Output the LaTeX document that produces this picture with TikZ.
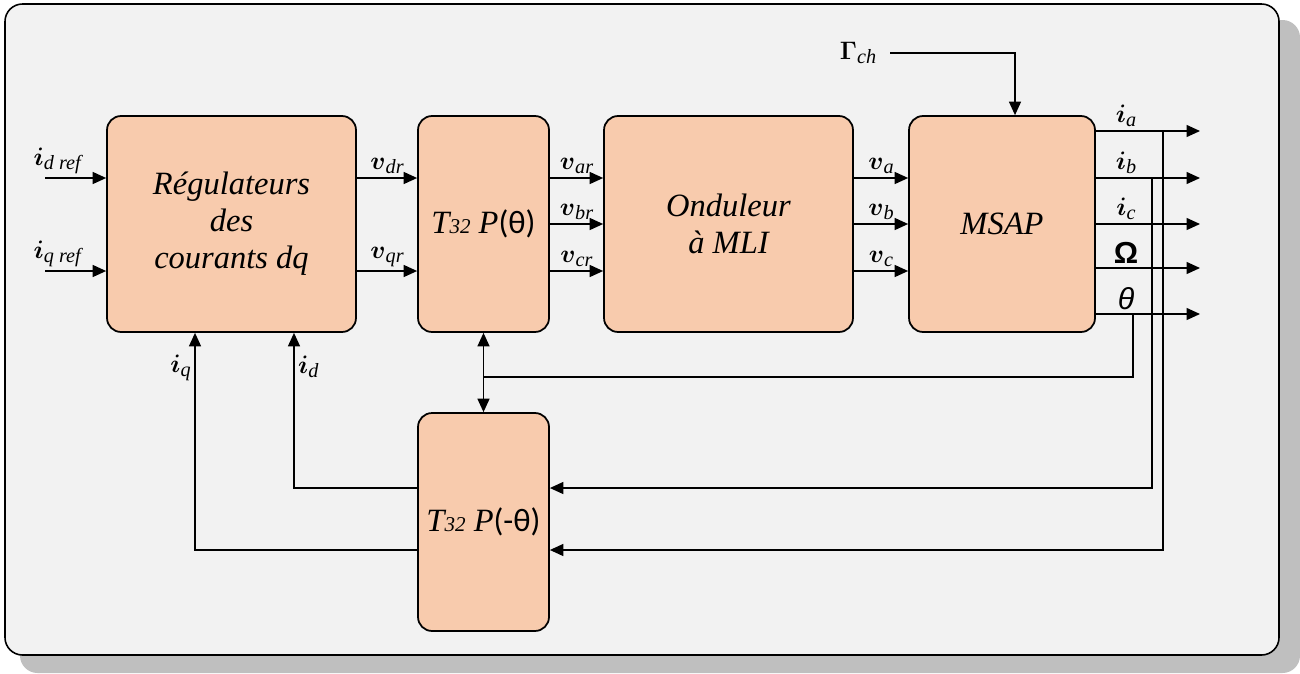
\documentclass[tikz,border=0pt]{standalone}
\usepackage{fontspec}
\usepackage{bm}
\newfontfamily\calfont{Carlito}
\newfontfamily\blockfont{Liberation Serif}
\newfontfamily\arialfont{Liberation Sans}
\usetikzlibrary{arrows.meta,positioning,calc}
\definecolor{peach}{HTML}{F8CBAD}
\definecolor{panel}{HTML}{F2F2F2}
\definecolor{shadowgrey}{HTML}{BFBFBF}
% bold symbol with an italic text subscript
\newcommand{\sglabel}[2]{$\bm{#1}$\raisebox{-0.35ex}{\blockfont\itshape\fontsize{11.5}{11.5}\selectfont #2}}

\begin{document}
\begin{tikzpicture}[x=0.02cm,y=-0.02cm,
    block/.style={draw, line width=1pt, rounded corners=0.28cm, fill=peach,
      align=center, inner sep=0pt, font=\blockfont\fontsize{18.5}{21}\selectfont\itshape},
    sig/.style={line width=0.8pt, -{Triangle[length=2.7mm,width=2.4mm]}},
    wire/.style={line width=0.8pt},
    lbl/.style={font=\Large, inner sep=2pt}]

  \useasboundingbox (0,0) rectangle (1300,673);
  \fill [shadowgrey, rounded corners=0.35cm] (20,20) rectangle (1300,673);
  \draw [fill=panel, line width=0.9pt, rounded corners=0.35cm] (5,4) rectangle (1279,655);

  % blocks
  \node [block, minimum width=4.98cm, minimum height=4.32cm] at (231.5,224) (reg) {R\'egulateurs\\des\\courants dq};
  \node [block, minimum width=2.62cm, minimum height=4.32cm] at (483.5,224) (tp) {T{\fontsize{12}{12}\selectfont 32} P{\calfont\upshape (θ)}};
  \node [block, minimum width=4.98cm, minimum height=4.32cm] at (728.5,224) (ond) {Onduleur\\\`a MLI};
  \node [block, minimum width=3.72cm, minimum height=4.32cm] at (1002,224) (msap) {MSAP};
  \node [block, minimum width=2.62cm, minimum height=4.36cm] at (483.5,522) (tpinv) {T{\fontsize{12}{12}\selectfont 32} P{\calfont\upshape (-θ)}};

  \coordinate (rowA) at (0,178);
  \coordinate (rowB) at (0,224);
  \coordinate (rowC) at (0,271);

  % references
  \coordinate (idref) at (45,178);
  \coordinate (iqref) at (45,271);
  \draw [sig] (idref) -- (idref -| reg.west) node [lbl, above, pos=0.2] {\sglabel{i}{d ref}};
  \draw [sig] (iqref) -- (iqref -| reg.west) node [lbl, above, pos=0.2] {\sglabel{i}{q ref}};

  \draw [sig] (reg.east |- rowA) -- (tp.west |- rowA) node [lbl, above, midway] {\sglabel{v}{dr}};
  \draw [sig] (reg.east |- rowC) -- (tp.west |- rowC) node [lbl, above, midway] {\sglabel{v}{qr}};

  \draw [sig] (tp.east |- rowA) -- (ond.west |- rowA) node [lbl, above, midway] {\sglabel{v}{ar}};
  \draw [sig] (tp.east |- rowB) -- (ond.west |- rowB) node [lbl, above, midway] {\sglabel{v}{br}};
  \draw [sig] (tp.east |- rowC) -- (ond.west |- rowC) node [lbl, above, midway] {\sglabel{v}{cr}};

  \draw [sig] (ond.east |- rowA) -- (msap.west |- rowA) node [lbl, above, midway] {\sglabel{v}{a}};
  \draw [sig] (ond.east |- rowB) -- (msap.west |- rowB) node [lbl, above, midway] {\sglabel{v}{b}};
  \draw [sig] (ond.east |- rowC) -- (msap.west |- rowC) node [lbl, above, midway] {\sglabel{v}{c}};

  % load torque
  \node [lbl] at (858,53) (gam) {\sglabel{\Gamma}{ch}};
  \coordinate (gstart) at (890,53);
  \draw [sig] (gstart) -| ([xshift=0.26cm]msap.north);

  % machine outputs
  \coordinate (ia) at (1200,131);
  \coordinate (ib) at (1200,178);
  \coordinate (ic) at (1200,224);
  \coordinate (om) at (1200,268);
  \coordinate (th) at (1200,314);
  \draw [sig] (msap.east |- ia) -- (ia) node [lbl, above, pos=0.29] {\sglabel{i}{a}};
  \draw [sig] (msap.east |- ib) -- (ib) node [lbl, above, pos=0.29] {\sglabel{i}{b}};
  \draw [sig] (msap.east |- ic) -- (ic) node [lbl, above, pos=0.29] {\sglabel{i}{c}};
  \draw [sig] (msap.east |- om) -- (om) node [lbl, above, pos=0.29] {\arialfont\bfseries\LARGE Ω};
  \draw [sig] (msap.east |- th) -- (th) node [lbl, above, pos=0.29] {\arialfont\itshape\LARGE θ};

  % feedback
  \coordinate (thtap) at (1133,314);
  \coordinate (ibtap) at (1152,178);
  \coordinate (iatap) at (1163,131);
  \coordinate (jct) at (483.5,377);
  \draw [wire] (thtap) |- (jct);
  \draw [line width=0.8pt, {Triangle[length=2.7mm,width=2.4mm]}-{Triangle[length=2.7mm,width=2.4mm]}] (tp.south) -- (tpinv.north);

  \draw [sig] (ibtap) |- ([yshift=0.68cm]tpinv.east);
  \draw [sig] (iatap) |- ([yshift=-0.56cm]tpinv.east);
  \draw [sig] ([yshift=0.68cm]tpinv.west) -| ([xshift=1.25cm]reg.south) node [lbl, right, pos=0.89] {\sglabel{i}{d}};
  \draw [sig] ([yshift=-0.56cm]tpinv.west) -| ([xshift=-0.73cm]reg.south) node [lbl, left, pos=0.92] {\sglabel{i}{q}};

\end{tikzpicture}
\end{document}
